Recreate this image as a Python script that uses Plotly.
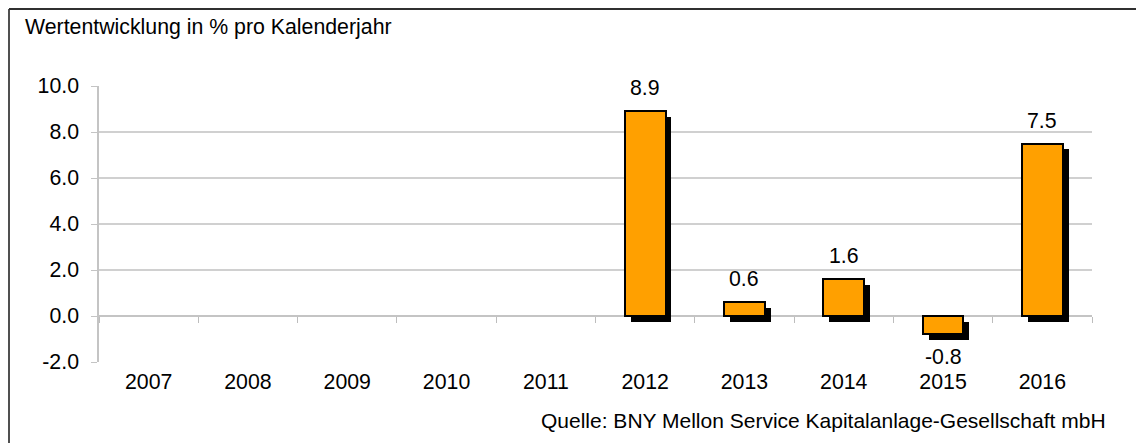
import plotly.graph_objects as go

years = ["2007", "2008", "2009", "2010", "2011", "2012", "2013", "2014", "2015", "2016"]
values = [None, None, None, None, None, 8.9, 0.6, 1.6, -0.8, 7.5]
y_ticks = [-2, 0, 2, 4, 6, 8, 10]
title_text = "Wertentwicklung in % pro Kalenderjahr"
source_text = "Quelle: BNY Mellon Service Kapitalanlage-Gesellschaft mbH"

FONT = "Liberation Sans, Arial, sans-serif"
FS = 21.3
# the page body has an 8px margin, so the figure starts at (8, 8)
OFF = 8
W, H = 1144 - OFF, 443 - OFF
L, T = 99 - OFF, 86 - OFF
R = W - (1092 - OFF)
B = H - (362 - OFF)
BAR_W = 0.41
SH_DX = 0.06   # shadow shift in category units
SH_DY = 0.25   # shadow shift in value units

plot_h = H - T - B
plot_w = W - L - R

def px_x(px):   # page pixel -> paper x
    return (px - OFF - L) / plot_w

def px_y(py):   # page pixel -> paper y
    return 1 - (py - OFF - T) / plot_h

xs = list(range(len(years)))
fig = go.Figure()

# shadows
fig.add_trace(go.Bar(
    x=xs, y=values, base=-SH_DY, width=BAR_W, offset=-BAR_W / 2 + SH_DX,
    marker=dict(color="#000000", line=dict(color="#000000", width=0)),
    hoverinfo="skip", showlegend=False,
))
# bars
fig.add_trace(go.Bar(
    x=xs, y=values, width=BAR_W, offset=-BAR_W / 2,
    marker=dict(color="#FFA000", line=dict(color="#000000", width=2)),
    showlegend=False,
))

annotations = []
for x, v in zip(xs, values):
    if v is None:
        continue
    annotations.append(dict(
        x=x, y=v, xref="x", yref="y", text=f"{v:.1f}", showarrow=False,
        yanchor="middle", yshift=23 if v >= 0 else -23,
        font=dict(family=FONT, size=FS, color="#000000"),
    ))

annotations.append(dict(
    text=title_text, xref="paper", yref="paper",
    x=px_x(23), y=px_y(27),
    xanchor="left", yanchor="middle", showarrow=False,
    font=dict(family=FONT, size=FS, color="#000000"),
))
annotations.append(dict(
    text=source_text, xref="paper", yref="paper",
    x=px_x(1108), y=px_y(420),
    xanchor="right", yanchor="middle", showarrow=False,
    font=dict(family=FONT, size=21, color="#000000"),
))

fig.update_layout(
    width=W, height=H,
    margin=dict(l=L, r=R, t=T, b=B, pad=0),
    paper_bgcolor="#FFFFFF", plot_bgcolor="#FFFFFF",
    barmode="overlay", bargap=0,
    font=dict(family=FONT, size=FS, color="#000000"),
    annotations=annotations,
    xaxis=dict(
        range=[-0.5, len(years) - 0.5], tickvals=xs, ticktext=years,
        showgrid=False, zeroline=False, showline=False, ticks="",
        ticklabelstandoff=5,
        tickfont=dict(family=FONT, size=FS, color="#000000"),
        fixedrange=True,
    ),
    xaxis2=dict(
        overlaying="x", anchor="free", position=2 / 12, side="bottom",
        range=[-0.5, len(years) - 0.5],
        tickvals=[i - 0.5 for i in range(len(years) + 1)],
        showticklabels=False, ticks="outside", ticklen=6, tickwidth=1,
        tickcolor="#BDBDBD", showgrid=False, zeroline=False, showline=False,
    ),
    yaxis=dict(
        range=[-2, 10], tickvals=y_ticks, ticktext=[f"{t:.1f}" for t in y_ticks],
        showgrid=True, gridcolor="#D0D0D0", gridwidth=1.5,
        zeroline=True, zerolinecolor="#C4C4C4", zerolinewidth=1.5,
        showline=True, linecolor="#C4C4C4", linewidth=1.5,
        ticks="outside", ticklen=6, tickcolor="#C4C4C4",
        ticklabelstandoff=8,
        tickfont=dict(family=FONT, size=FS, color="#000000"),
    ),
    shapes=[
        dict(type="line", xref="paper", yref="paper",
             x0=px_x(9), x1=px_x(9), y0=px_y(443 + 30), y1=px_y(9),
             line=dict(color="#505050", width=2), layer="above"),
        dict(type="line", xref="paper", yref="paper",
             x0=px_x(9), x1=px_x(1144 + 30), y0=px_y(9), y1=px_y(9),
             line=dict(color="#303030", width=2), layer="above"),
    ],
)

# invisible trace so xaxis2 (tick marks on the zero line) renders
fig.add_trace(go.Scatter(x=[0], y=[0], xaxis="x2", mode="markers",
                         marker=dict(opacity=0), hoverinfo="skip", showlegend=False))

fig.write_html("out.html")
